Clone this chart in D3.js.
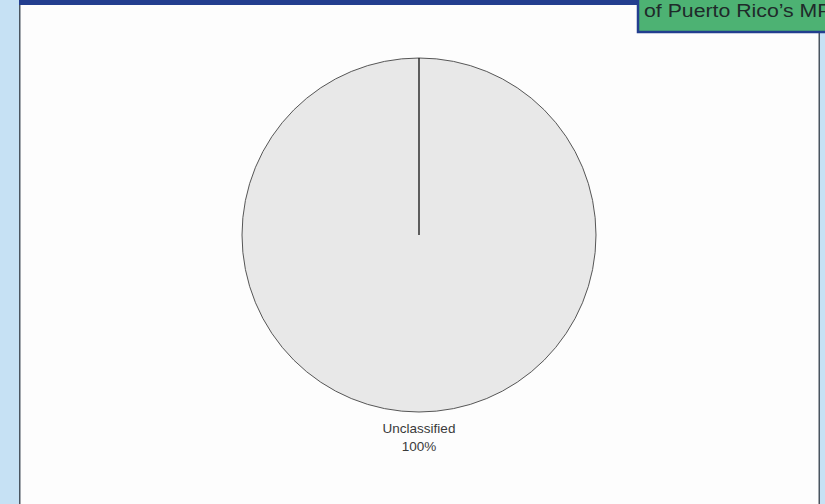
<!DOCTYPE html>
<html><head><meta charset="utf-8">
<script src="https://cdn.jsdelivr.net/npm/d3@7"></script>
<style>html,body{margin:0;padding:0;background:#fff;}svg{display:block;}</style>
</head><body>
<script>
const categories = ["Unclassified"];
const values = [100];
const percentLabels = ["100%"];

const W = 825, H = 504;
const svg = d3.select("body").append("svg").attr("width", W).attr("height", H);

// background frame
svg.append("rect").attr("x",0).attr("y",0).attr("width",W).attr("height",H).attr("fill","#c6e1f4");
svg.append("rect").attr("x",19).attr("y",0).attr("width",801).attr("height",H).attr("fill","#fdfdfd");
svg.append("rect").attr("x",19).attr("y",0).attr("width",1.5).attr("height",H).attr("fill","#4a5560");
svg.append("rect").attr("x",818.5).attr("y",0).attr("width",1.5).attr("height",H).attr("fill","#4a5560");
svg.append("rect").attr("x",19).attr("y",0).attr("width",630).attr("height",5).attr("fill","#233e8f");

// green title box
svg.append("rect").attr("x",638).attr("y",-2).attr("width",192).attr("height",34)
  .attr("fill","#4db273").attr("stroke","#233e8f").attr("stroke-width",2.5);
svg.append("text").attr("x",644).attr("y",17)
  .attr("font-family","Liberation Sans, Arial, sans-serif")
  .attr("font-size",19).attr("fill","#1f2a2a")
  .attr("transform","translate(644,0) scale(1.12,1) translate(-644,0)")
  .text("of Puerto Rico\u2019s MP");

// pie
const cx = 419, cy = 235, r = 177;
const pie = d3.pie().sort(null).value(d => d)(values);
const arc = d3.arc().innerRadius(0).outerRadius(r);
const g = svg.append("g").attr("transform",`translate(${cx},${cy})`);
g.selectAll("path.slice").data(pie).enter().append("path").attr("class","slice")
  .attr("d", arc).attr("fill","#e8e8e8").attr("stroke","#444").attr("stroke-width",0.9);
g.selectAll("line.edge").data(pie).enter().append("line").attr("class","edge")
  .attr("x1",0).attr("y1",0)
  .attr("x2", d => r*Math.sin(d.startAngle)).attr("y2", d => -r*Math.cos(d.startAngle))
  .attr("stroke","#111").attr("stroke-width",1.3);

// labels
const lab = svg.append("g").attr("font-family","Liberation Sans, Arial, sans-serif")
  .attr("font-size",13.5).attr("fill","#3a3a3a").attr("text-anchor","middle");
pie.forEach((d,i) => {
  const ly = cy + r;
  lab.append("text").attr("x", cx).attr("y", ly + 21).text(categories[i]);
  lab.append("text").attr("x", cx).attr("y", ly + 39).text(percentLabels[i]);
});
</script>
</body></html>
